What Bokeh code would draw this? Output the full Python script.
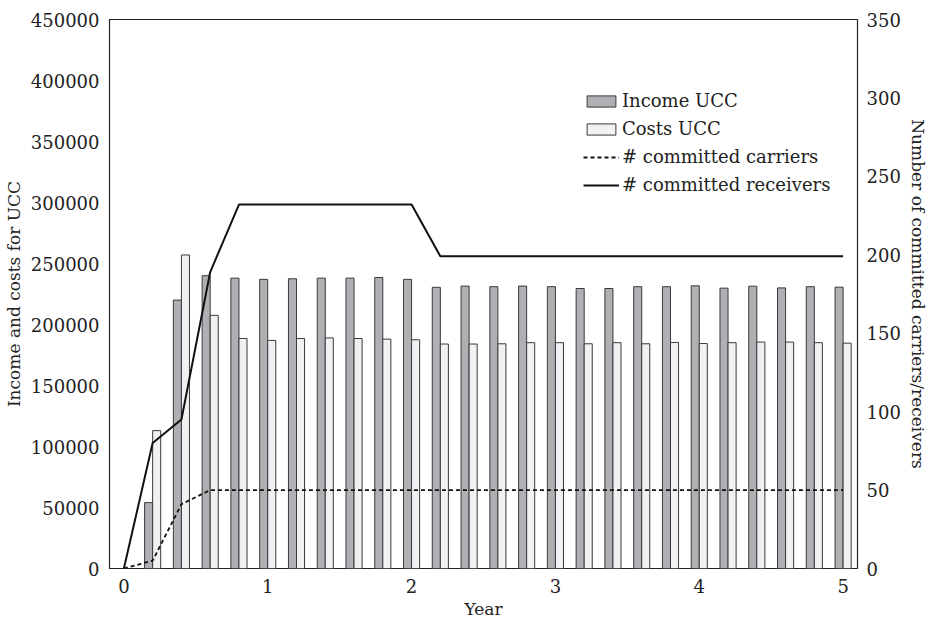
from bokeh.plotting import figure
from bokeh.models import (Range1d, LinearAxis, Legend, LegendItem, ColumnDataSource,
                          FixedTicker, BasicTickFormatter)
from bokeh.transform import dodge
from bokeh.embed import file_html
from bokeh.resources import INLINE

years_bar = [0.2, 0.4, 0.6, 0.8, 1.0, 1.2, 1.4, 1.6, 1.8, 2.0, 2.2, 2.4, 2.6, 2.8, 3.0,
             3.2, 3.4, 3.6, 3.8, 4.0, 4.2, 4.4, 4.6, 4.8, 5.0]
income = [54000, 220000, 240000, 238000, 237000, 237500, 238000, 238000, 238500, 237000,
          230500, 231500, 231000, 231500, 231000, 229500, 229500, 231000, 231000, 231700,
          229800, 231400, 230000, 231000, 230600]
costs = [113000, 257000, 207500, 188500, 187000, 188500, 189000, 188500, 188000, 187500,
         184000, 184000, 184200, 185100, 185100, 184200, 185100, 184200, 185300, 184400,
         185100, 185600, 185600, 185100, 184700]

years_line = [0.0, 0.2, 0.4, 0.6, 0.8, 1.0, 1.2, 1.4, 1.6, 1.8, 2.0, 2.2, 2.4, 2.6, 2.8,
              3.0, 3.2, 3.4, 3.6, 3.8, 4.0, 4.2, 4.4, 4.6, 4.8, 5.0]
carriers = [0, 5, 41, 50, 50, 50, 50, 50, 50, 50, 50, 50, 50, 50, 50, 50, 50, 50, 50, 50,
            50, 50, 50, 50, 50, 50]
receivers = [0, 80, 95, 189, 232, 232, 232, 232, 232, 232, 232, 199, 199, 199, 199, 199,
             199, 199, 199, 199, 199, 199, 199, 199, 199, 199]

x_ticks = [0, 1, 2, 3, 4, 5]
left_ticks = [0, 50000, 100000, 150000, 200000, 250000, 300000, 350000, 400000, 450000]
right_ticks = [0, 50, 100, 150, 200, 250, 300, 350]

FONT = "DejaVu Serif"
TXT = "#222222"

p = figure(frame_width=748, frame_height=549, output_backend="svg", toolbar_location=None,
           x_range=Range1d(-0.1, 5.1), y_range=Range1d(0, 450000),
           min_border_left=102, min_border_right=0, min_border_top=19, min_border_bottom=0)
p.extra_y_ranges = {"count": Range1d(0, 350)}
p.grid.visible = False
p.outline_line_color = "#222222"
p.outline_line_width = 1.2
p.background_fill_color = "white"
p.border_fill_color = "white"

src = ColumnDataSource(dict(x=years_bar, income=income, costs=costs))
r_inc = p.vbar(x=dodge("x", -0.028, range=p.x_range), top="income", width=0.056, source=src,
               fill_color="#b0b0b4", line_color="#3a3a3a", line_width=1)
r_cost = p.vbar(x=dodge("x", 0.028, range=p.x_range), top="costs", width=0.056, source=src,
                fill_color="#f0f1f3", line_color="#3a3a3a", line_width=1)

r_car = p.line(years_line, carriers, y_range_name="count", line_color="#111111",
               line_width=1.8, line_dash="4 3")
r_rec = p.line(years_line, receivers, y_range_name="count", line_color="#111111",
               line_width=2)

def style(ax):
    ax.axis_line_color = None
    ax.major_tick_line_color = None
    ax.minor_tick_line_color = None
    ax.major_tick_out = 0
    ax.major_tick_in = 0
    ax.minor_tick_out = 0
    ax.minor_tick_in = 0
    ax.major_label_text_font = FONT
    ax.major_label_text_font_size = "18px"
    ax.major_label_text_color = TXT
    ax.axis_label_text_font = FONT
    ax.axis_label_text_font_size = "17px"
    ax.axis_label_text_font_style = "normal"
    ax.axis_label_text_color = TXT

p.xaxis.ticker = FixedTicker(ticks=x_ticks)
p.xaxis.axis_label = "Year"
p.xaxis.major_label_standoff = 10
p.xaxis.axis_label_standoff = 3
style(p.xaxis[0])

p.yaxis.ticker = FixedTicker(ticks=left_ticks)
p.yaxis.formatter = BasicTickFormatter(use_scientific=False)
p.yaxis.axis_label = "Income and costs for UCC"
p.yaxis.major_label_standoff = 10
p.yaxis.axis_label_standoff = 4
style(p.yaxis[0])

ry = LinearAxis(y_range_name="count", ticker=FixedTicker(ticks=right_ticks),
                axis_label="Number of committed carriers/receivers")
ry.formatter = BasicTickFormatter(use_scientific=False)
ry.major_label_standoff = 9
ry.axis_label_standoff = 4
style(ry)
p.add_layout(ry, "right")

legend = Legend(items=[
    LegendItem(label="Income UCC", renderers=[r_inc]),
    LegendItem(label="Costs UCC", renderers=[r_cost]),
    LegendItem(label="# committed carriers", renderers=[r_car]),
    LegendItem(label="# committed receivers", renderers=[r_rec]),
], location=(474, 373))
legend.border_line_color = None
legend.background_fill_alpha = 0
legend.padding = 0
legend.margin = 0
legend.spacing = 7
legend.glyph_width = 36
legend.glyph_height = 14
legend.label_height = 20
legend.label_standoff = 3
legend.label_text_font = FONT
legend.label_text_font_size = "18px"
legend.label_text_color = TXT
p.add_layout(legend, "center")

open("out.html", "w").write(file_html(p, INLINE))
